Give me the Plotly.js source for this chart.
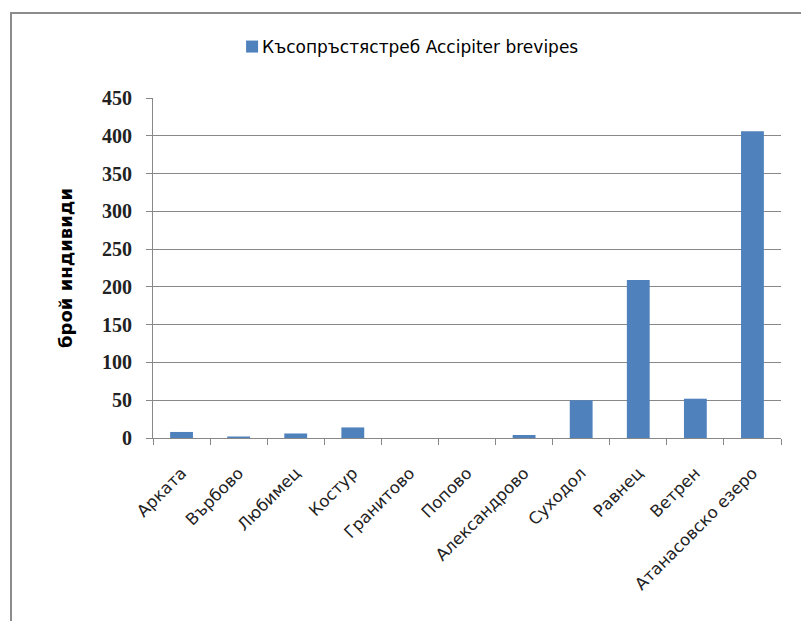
<!DOCTYPE html>
<html><head><meta charset="utf-8">
<script src="https://cdn.plot.ly/plotly-3.0.1.min.js"></script>
<style>
body{margin:0;background:#fff;}
#frame{position:absolute;left:10px;top:12px;width:900px;height:700px;border:2px solid #8c8c8c;}
#chart{position:absolute;left:0;top:0;width:801px;height:621px;}
#chart .legendpoints{transform:translate(10px,0);}
</style></head>
<body>
<div id="frame"></div>
<div id="chart"></div>
<script>
const categories = ["Арката","Върбово","Любимец","Костур","Гранитово","Попово","Александрово","Суходол","Равнец","Ветрен","Атанасовско езеро"];
const values = [8, 2, 6, 14, 0, 0, 4, 50, 209, 52, 406];
const seriesName = "Късопръстястреб Accipiter brevipes";
const yTitle = "брой индивиди";

const trace = {type:"bar", x:categories, y:values, name:seriesName,
  marker:{color:"#4F81BD"}, showlegend:true};

const layout = {
  width:801, height:621,
  paper_bgcolor:"rgba(0,0,0,0)", plot_bgcolor:"rgba(0,0,0,0)",
  margin:{l:153, r:20, t:98, b:183},
  bargap:0.6,
  font:{family:"DejaVu Sans, sans-serif", color:"#000"},
  showlegend:true,
  legend:{orientation:"h", x:0.110, xanchor:"left", y:1.15, yanchor:"middle",
    font:{size:17, family:"DejaVu Sans, sans-serif"}, itemwidth:30},
  xaxis:{type:"category", tickangle:-45, tickfont:{size:16.5, color:"#222"},
    ticks:"outside", tickson:"boundaries", ticklen:6, tickcolor:"#888", ticklabelstandoff:18,
    showline:true, linecolor:"#888", linewidth:1, showgrid:false},
  yaxis:{range:[0,450], dtick:50, tickfont:{size:20, family:"Liberation Serif, serif", weight:"bold", color:"#222"},
    ticks:"outside", ticklen:6, tickcolor:"#888", ticklabelstandoff:10,
    showline:true, linecolor:"#888", gridcolor:"#888", gridwidth:1, zeroline:false,
    title:{text:yTitle, font:{size:18, family:"DejaVu Sans, sans-serif", weight:"bold"}, standoff:24}}
};
Plotly.newPlot("chart", [trace], layout, {displayModeBar:false, staticPlot:true});
</script>
</body></html>
